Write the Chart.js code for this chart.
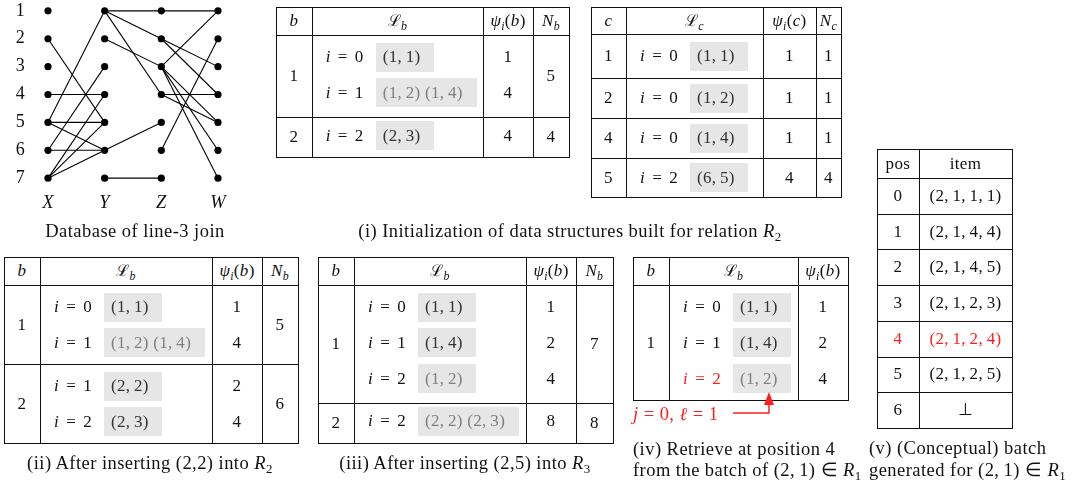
<!DOCTYPE html>
<html>
<head>
<meta charset="utf-8">
<script src="https://cdn.jsdelivr.net/npm/chart.js@4.4.1/dist/chart.umd.min.js"></script>
<style>
body { margin:0; background:#fff; width:1078px; height:485px; position:relative; overflow:hidden;
       font-family:"Liberation Serif", serif; font-size:17px; color:#111; letter-spacing:0.3px; }
.a { position:absolute; white-space:nowrap; height:24px; line-height:24px; }
.c { text-align:center; width:600px; }
.cap { font-size:18.5px; letter-spacing:0.45px; }
.ln { position:absolute; background:#111; }
.box { position:absolute; background:#e6e6e6; height:29px; }
.d { color:#333; }
.l { color:#808080; }
.r { color:#ff1e1e; }
sub { font-size:0.7em; vertical-align:-0.3em; line-height:0; }
</style>
</head>
<body>
<canvas id="graph" width="250" height="215" style="position:absolute;left:0;top:0"></canvas>
<div id="tables"></div>
<svg width="1078" height="485" style="position:absolute;left:0;top:0">
  <polyline points="733,413 769,413 769,403" fill="none" stroke="#ff1e1e" stroke-width="1.5"/>
  <polygon points="769,392 764,405 774,405" fill="#ff1e1e"/>
</svg>
<script>
// line-3 join database: four attributes, values 1..7
const columns = ['X', 'Y', 'Z', 'W'];
const rowIds = [1, 2, 3, 4, 5, 6, 7];
const edgesXY = [[2, 5], [4, 4], [5, 1], [5, 5], [5, 6], [6, 6], [6, 3], [7, 4], [7, 5], [7, 6]];
const edgesYZ = [[1, 1], [1, 2], [1, 4], [2, 3], [6, 5], [7, 7]];
const edgesZW = [[1, 1], [2, 3], [2, 4], [3, 1], [3, 5], [3, 6], [3, 7], [4, 4], [4, 5], [6, 2]];

let nodes = [];
columns.forEach((c, ci) => rowIds.forEach(r => nodes.push({x: ci + 1, y: r})));

let datasets = [{data: nodes, pointRadius: 3.6, pointBackgroundColor: '#000', pointBorderWidth: 0, clip: false}];
[edgesXY, edgesYZ, edgesZW].forEach((list, k) => {
    list.forEach(e => {
        datasets.push({
            data: [{x: k + 1, y: e[0]}, {x: k + 2, y: e[1]}],
            showLine: true, borderColor: '#000', borderWidth: 1.1, pointRadius: 0, clip: false
        });
    });
});

new Chart(document.getElementById('graph'), {
    type: 'scatter',
    data: {datasets: datasets},
    options: {
        responsive: false,
        animation: false,
        layout: {padding: {left: 0, right: 20, top: 0, bottom: 0}},
        plugins: {legend: {display: false}, tooltip: {enabled: false}},
        scales: {
            x: {
                type: 'linear', min: 0.859, max: 4.212,
                grid: {display: false, drawTicks: false}, border: {display: false},
                afterBuildTicks: s => { s.ticks = columns.map((c, i) => ({value: i + 1})); },
                ticks: {callback: v => columns[v - 1], padding: 7, color: '#111', autoSkip: false, maxRotation: 0,
                        font: {family: 'Liberation Serif', size: 18.5, style: 'italic'}},
                afterFit: s => { s.height = 30; s.paddingLeft = 0; s.paddingRight = 0; }
            },
            y: {
                type: 'linear', reverse: true, min: 0.754, max: 7.245,
                grid: {display: false, drawTicks: false}, border: {display: false},
                afterBuildTicks: s => { s.ticks = rowIds.map(r => ({value: r})); },
                ticks: {padding: 15, color: '#111', font: {family: 'Liberation Serif', size: 18}},
                afterFit: s => { s.width = 40; s.paddingTop = 0; s.paddingBottom = 0; }
            }
        }
    }
});

// ---- tables (text) ----
const root = document.getElementById('tables');
function add(cls, x, y, w, h, html) {
    let d = document.createElement('div');
    d.className = cls;
    d.style.left = x + 'px'; d.style.top = y + 'px';
    if (w != null) d.style.width = w + 'px';
    if (h != null) d.style.height = h + 'px';
    if (html != null) d.innerHTML = html;
    root.appendChild(d);
    return d;
}
function textC(html, cx, cy, cls) { add('a c ' + (cls || ''), cx - 300, cy - 12, null, null, html); }
function textL(html, x, cy, cls) { add('a ' + (cls || ''), x, cy - 12, null, null, html); }
function pairs(s) { return s.replace(/,/g, ',&thinsp;').replace(/\)\(/g, ')&nbsp;('); }

const L = s => '<span style="font-family:\'DejaVu Serif\';font-size:16px">ℒ</span><sub><i>' + s + '</i></sub>';
const PSI = s => '<i>ψ</i><sub><i>i</i></sub>(<i>' + s + '</i>)';
const NN = s => '<i>N</i><sub><i>' + s + '</i></sub>';
const EQ = '<span style="margin:0 0.42em">=</span>';

function table(t) {
    const c = t.cols, x0 = c[0], x1 = c[c.length - 1];
    let y = t.top, bottom = t.top + t.head + t.groups.reduce((a, g) => a + g.h, 0);
    // header
    t.hdr.forEach((h, i) => textC(h, (c[i] + c[i + 1]) / 2, y + t.head / 2));
    add('ln', x0, y, x1 - x0 + 1, 1);
    c.forEach(x => add('ln', x, y, 1, bottom - y + 1));
    y += t.head;
    add('ln', x0, y, x1 - x0 + 1, 1);
    t.groups.forEach(g => {
        const n = g.subs.length;
        const pad = g.pad != null ? g.pad : (g.h - (n * 35.7 - 6.7)) / 2;
        textC(g.k, (c[0] + c[1]) / 2, y + g.h / 2);
        if (g.n != null) textC(g.n, (c[3] + c[4]) / 2, y + g.h / 2);
        g.subs.forEach((s, k) => {
            const bt = y + pad + k * 35.7, cy = bt + 14.5;
            const np = (s[1].match(/\(/g) || []).length;
            add('box', c[1] + 64, bt, 58 + 43 * (np - 1), null);
            textL('<i>i</i>' + EQ + s[0], c[1] + 14, cy, s[4] || '');
            textL(pairs(s[1]), c[1] + 71, cy, s[2]);
            textC(s[3], (c[2] + c[3]) / 2, cy);
        });
        y += g.h;
        add('ln', x0, y, x1 - x0 + 1, 1);
    });
}

// (i) initialization, relation R2 keyed by b
table({cols: [276, 311.7, 483, 533, 569], top: 7, head: 28, hdr: ['<i>b</i>', L('b'), PSI('b'), NN('b')],
    groups: [
        {k: '1', h: 82, n: '5', pad: 7.5, subs: [['0', '(1,1)', 'd', '1'], ['1', '(1,2)(1,4)', 'l', '4']]},
        {k: '2', h: 40, n: '4', pad: 4, subs: [['2', '(2,3)', 'd', '4']]}
    ]});
// (i) keyed by c
table({cols: [591, 626, 763, 815.7, 841], top: 7, head: 27, hdr: ['<i>c</i>', L('c'), PSI('c'), NN('c')],
    groups: [
        {k: '1', h: 44, n: '1', pad: 7.7, subs: [['0', '(1,1)', 'd', '1']]},
        {k: '2', h: 40, n: '1', subs: [['0', '(1,2)', 'd', '1']]},
        {k: '4', h: 40, n: '1', subs: [['0', '(1,4)', 'd', '1']]},
        {k: '5', h: 39, n: '4', subs: [['2', '(6,5)', 'd', '4']]}
    ]});
// (ii)
table({cols: [4, 40, 212, 262, 298], top: 257, head: 28, hdr: ['<i>b</i>', L('b'), PSI('b'), NN('b')],
    groups: [
        {k: '1', h: 79, n: '5', pad: 7.7, subs: [['0', '(1,1)', 'd', '1'], ['1', '(1,2)(1,4)', 'l', '4']]},
        {k: '2', h: 79, n: '6', pad: 7.7, subs: [['1', '(2,2)', 'd', '2'], ['2', '(2,3)', 'd', '4']]}
    ]});
// (iii)
table({cols: [318, 354, 526, 576, 612.7], top: 257, head: 28, hdr: ['<i>b</i>', L('b'), PSI('b'), NN('b')],
    groups: [
        {k: '1', h: 118, n: '7', pad: 7.7, subs: [['0', '(1,1)', 'd', '1'], ['1', '(1,4)', 'd', '2'], ['2', '(1,2)', 'l', '4']]},
        {k: '2', h: 40, n: '8', pad: 3.7, subs: [['2', '(2,2)(2,3)', 'l', '8']]}
    ]});
// (iv)
table({cols: [633, 669, 797.7, 848], top: 257, head: 28, hdr: ['<i>b</i>', L('b'), PSI('b')],
    groups: [
        {k: '1', h: 115, pad: 7.7, subs: [['0', '(1,1)', 'd', '1'], ['1', '(1,4)', 'd', '2'], ['2', '(1,2)', 'l', '4', 'r']]}
    ]});

// (v) conceptual batch
const batchPos = ['0', '1', '2', '3', '4', '5', '6'];
const batchItem = ['(2,1,1,1)', '(2,1,4,4)', '(2,1,4,5)', '(2,1,2,3)', '(2,1,2,4)', '(2,1,2,5)', '⊥'];
(function () {
    const c = [876.7, 919, 1012], top = 149.3, head = 28.7, rh = 35.7;
    const bottom = top + head + rh * batchPos.length;
    add('ln', c[0], top, c[2] - c[0] + 1, 1);
    c.forEach(x => add('ln', x, top, 1, bottom - top + 1));
    textC('pos', (c[0] + c[1]) / 2, top + head / 2);
    textC('item', (c[1] + c[2]) / 2, top + head / 2);
    let y = top + head;
    add('ln', c[0], y, c[2] - c[0] + 1, 1);
    batchPos.forEach((p, i) => {
        const cls = p === '4' ? 'r' : '';
        textC(p, (c[0] + c[1]) / 2, y + rh / 2, cls);
        textC(pairs(batchItem[i]), (c[1] + c[2]) / 2, y + rh / 2, cls);
        y += rh;
        add('ln', c[0], y, c[2] - c[0] + 1, 1);
    });
})();

// captions
textC('Database of line-3 join', 135, 231, 'cap');
textC('(i) Initialization of data structures built for relation <i>R</i><sub>2</sub>', 570, 231, 'cap');
textC('(ii) After inserting (2,2) into <i>R</i><sub>2</sub>', 150, 463, 'cap');
textC('(iii) After inserting (2,5) into <i>R</i><sub>3</sub>', 465, 463, 'cap');
textL('<i>j</i> = 0, <i>ℓ</i> = 1', 633, 414, 'r cap');
textL('(iv) Retrieve at position 4', 633, 449, 'cap');
textL('from the batch of (2,&thinsp;1) ∈ <i>R</i><sub>1</sub>', 633, 470, 'cap');
textL('(v) (Conceptual) batch', 869, 448, 'cap');
textL('generated for (2,&thinsp;1) ∈ <i>R</i><sub>1</sub>', 869, 470, 'cap');
</script>
</body>
</html>
